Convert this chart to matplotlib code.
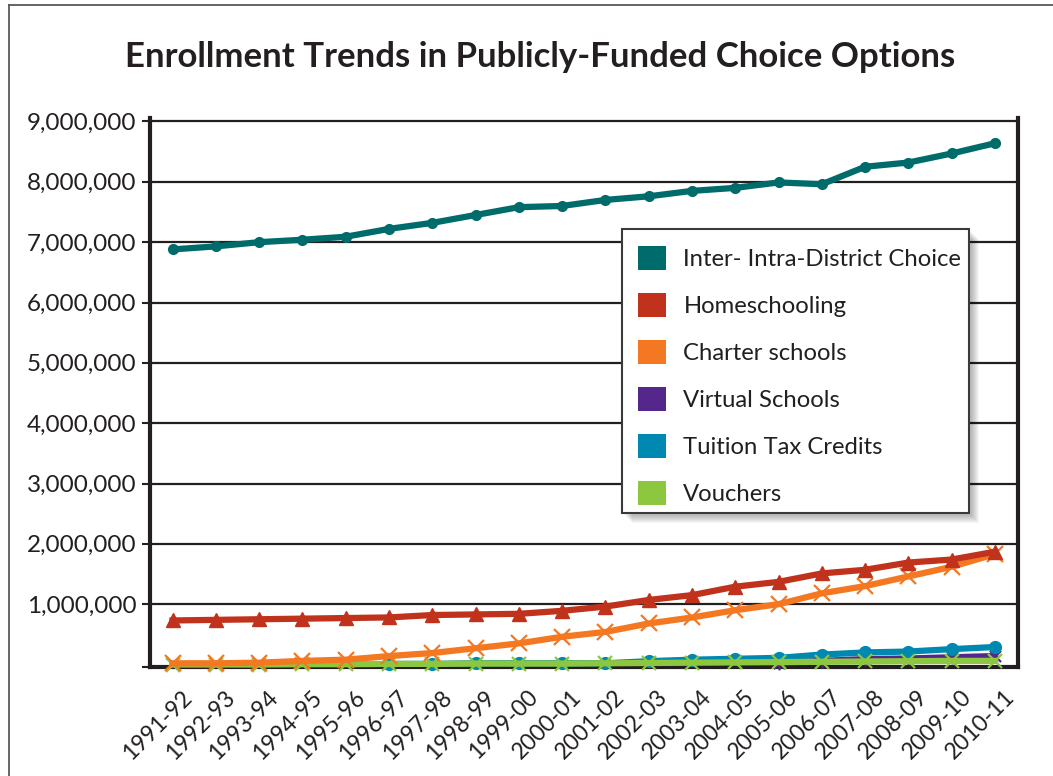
import matplotlib
matplotlib.use("Agg")
import matplotlib.pyplot as plt
import numpy as np
from matplotlib.patches import Patch, Rectangle
from matplotlib.lines import Line2D
from matplotlib.path import Path
from matplotlib.transforms import ScaledTranslation

nan = np.nan

# School years on the horizontal axis
years = ["1991-92", "1992-93", "1993-94", "1994-95", "1995-96", "1996-97",
         "1997-98", "1998-99", "1999-00", "2000-01", "2001-02", "2002-03",
         "2003-04", "2004-05", "2005-06", "2006-07", "2007-08", "2008-09",
         "2009-10", "2010-11"]

# Enrollment by choice option (students)
inter_intra_district = [6880000, 6930000, 7000000, 7040000, 7090000, 7220000,
                        7320000, 7450000, 7580000, 7600000, 7700000, 7760000,
                        7850000, 7900000, 7990000, 7960000, 8250000, 8320000,
                        8470000, 8640000]
homeschooling = [730000, 740000, 750000, 760000, 770000, 780000, 820000,
                 830000, 840000, 890000, 960000, 1070000, 1150000, 1290000,
                 1370000, 1510000, 1570000, 1690000, 1740000, 1870000]
charter_schools = [20000, 20000, 30000, 60000, 80000, 140000, 190000, 270000,
                   350000, 460000, 540000, 680000, 780000, 900000, 1000000,
                   1180000, 1300000, 1460000, 1620000, 1830000]
virtual_schools = [nan, nan, nan, nan, nan, nan, nan, nan, nan, nan, nan, nan,
                   nan, nan, 30000, 60000, 90000, 100000, 120000, 140000]
tuition_tax_credits = [nan, nan, nan, nan, nan, 10000, 10000, 20000, 20000,
                       20000, 20000, 55000, 80000, 95000, 110000, 165000,
                       200000, 215000, 255000, 290000]
vouchers = [0, 0, 0, 5000, 5000, 10000, 10000, 15000, 15000, 15000, 20000,
            25000, 30000, 35000, 40000, 45000, 50000, 55000, 60000, 60000]

series_names = ["Inter- Intra-District Choice", "Homeschooling",
                "Charter schools", "Virtual Schools", "Tuition Tax Credits",
                "Vouchers"]
y_ticks = [1000000, 2000000, 3000000, 4000000, 5000000, 6000000, 7000000,
           8000000, 9000000]
title = "Enrollment Trends in Publicly-Funded Choice Options"

colors = {
    "teal": "#006b6b",
    "red": "#c0321b",
    "orange": "#f47822",
    "purple": "#54288a",
    "blue": "#0089b0",
    "green": "#8dc63f",
}
ink = "#231f20"

plt.rcParams["font.family"] = ["Lato", "DejaVu Sans"]

W, H = 1053, 776
fig = plt.figure(figsize=(W / 100, H / 100), dpi=100)
fig.patch.set_facecolor("white")

# plot area in pixels: left 150, right 1018, top 118, bottom 666.5
ax = fig.add_axes([150 / W, (H - 666.5) / H, (1018 - 150) / W, (666.5 - 118.3) / H])
ax.set_facecolor("white")

x = np.arange(len(years))
y_bottom, y_top = -33000, 9053000
ax.set_xlim(-0.52, len(years) - 1 + 0.53)
ax.set_ylim(y_bottom, y_top)

# star marker: an "x" crossed by a vertical bar
star = Path([(-1, -1), (1, 1), (-1, 1), (1, -1), (0, -1.25), (0, 1.25)],
            [Path.MOVETO, Path.LINETO, Path.MOVETO, Path.LINETO,
             Path.MOVETO, Path.LINETO])

lw = 4.5
common = dict(linewidth=lw, clip_on=False, solid_capstyle="projecting")
ax.plot(x, virtual_schools, color=colors["purple"], marker=star, markersize=10,
        markeredgewidth=1.6, zorder=3.0, **common)
ax.plot(x, tuition_tax_credits, color=colors["blue"], marker="o", markersize=8.5,
        zorder=3.1, **common)
ax.plot(x, vouchers, color=colors["green"], marker="x", markersize=9.5,
        markeredgewidth=1.6, zorder=3.2, **common)
ax.plot(x, charter_schools, color=colors["orange"], marker="x", markersize=11,
        markeredgewidth=1.6, zorder=3.3, **common)
ax.plot(x, homeschooling, color=colors["red"], marker="^", markersize=10.5,
        zorder=3.4, **common)
ax.plot(x, inter_intra_district, color=colors["teal"], marker="o", markersize=7,
        zorder=3.5, **common)

# axes frame
for side in ("left", "bottom", "right"):
    ax.spines[side].set_linewidth(3.0)
    ax.spines[side].set_color(ink)
    ax.spines[side].set_zorder(2.5)
ax.spines["top"].set_visible(False)

# y axis: ticks and grid
ax.set_yticks([y_bottom] + y_ticks)
ax.set_yticklabels([""] + [f"{v:,.0f}" for v in y_ticks])
ax.tick_params(axis="y", direction="out", length=6, width=1.5, color=ink,
               labelsize=17.5, labelcolor=ink, pad=3.6)
for v in y_ticks:
    ax.axhline(v, color=ink, linewidth=1.6, zorder=1)

# x axis labels, rotated
ax.set_xticks(x)
ax.set_xticklabels(years, rotation=45, ha="right", va="top",
                   rotation_mode="anchor", fontsize=16.5, color=ink)
ax.tick_params(axis="x", length=0, pad=0)
shift = ScaledTranslation(0.085, -0.2, fig.dpi_scale_trans)
for lab in ax.get_xticklabels():
    lab.set_transform(lab.get_transform() + shift)

# title
fig.text(540 / W, 1 - 67 / H, title, ha="center", va="baseline",
         fontsize=25, fontweight="bold", color=ink)

# outer frame
frame_kw = dict(transform=fig.transFigure, color="#58595b", linewidth=1.3)
fig.add_artist(Line2D([8.7 / W, 8.7 / W], [0, 1 - 5 / H], **frame_kw))
fig.add_artist(Line2D([8.7 / W, 1], [1 - 5 / H, 1 - 5 / H], **frame_kw))

# legend box (pixels): left 622, top 229.3, right 969, bottom 513.3
bx0, by_top, bx1, by_bot = 622, 229.3, 969, 513.3
# soft drop shadow, then the white box with a dark edge
for k in range(1, 9):
    off = k * 1.0 + 2
    ax.add_artist(Rectangle(((bx0 + off) / W, 1 - (by_bot + off) / H),
                            (bx1 - bx0) / W, (by_bot - by_top) / H,
                            transform=fig.transFigure, facecolor="#000000",
                            edgecolor="none", alpha=0.035, zorder=9,
                            clip_on=False))
ax.add_artist(Rectangle((bx0 / W, 1 - by_bot / H), (bx1 - bx0) / W,
                        (by_bot - by_top) / H, transform=fig.transFigure,
                        facecolor="white", edgecolor="#3a3a3a", linewidth=1.5,
                        zorder=9.5, clip_on=False))

handle_colors = [colors["teal"], colors["red"], colors["orange"],
                 colors["purple"], colors["blue"], colors["green"]]
handles = [Patch(facecolor=c, edgecolor="none") for c in handle_colors]
x0 = (bx0 - 150) / (1018 - 150)
wd = (bx1 - bx0) / (1018 - 150)
top = (666.5 - by_top) / (666.5 - 118.3)
leg = ax.legend(handles, series_names, loc="upper left",
                bbox_to_anchor=(x0, top - 0.6, wd, 0.6), mode="expand",
                fontsize=17.2, handlelength=1.17, handleheight=1.17,
                handletextpad=0.72, labelspacing=0.965, borderpad=0.68,
                borderaxespad=0, frameon=False)
for t in leg.get_texts():
    t.set_color(ink)
leg.set_zorder(10)

fig.savefig("out.png", dpi=100, facecolor="white")
